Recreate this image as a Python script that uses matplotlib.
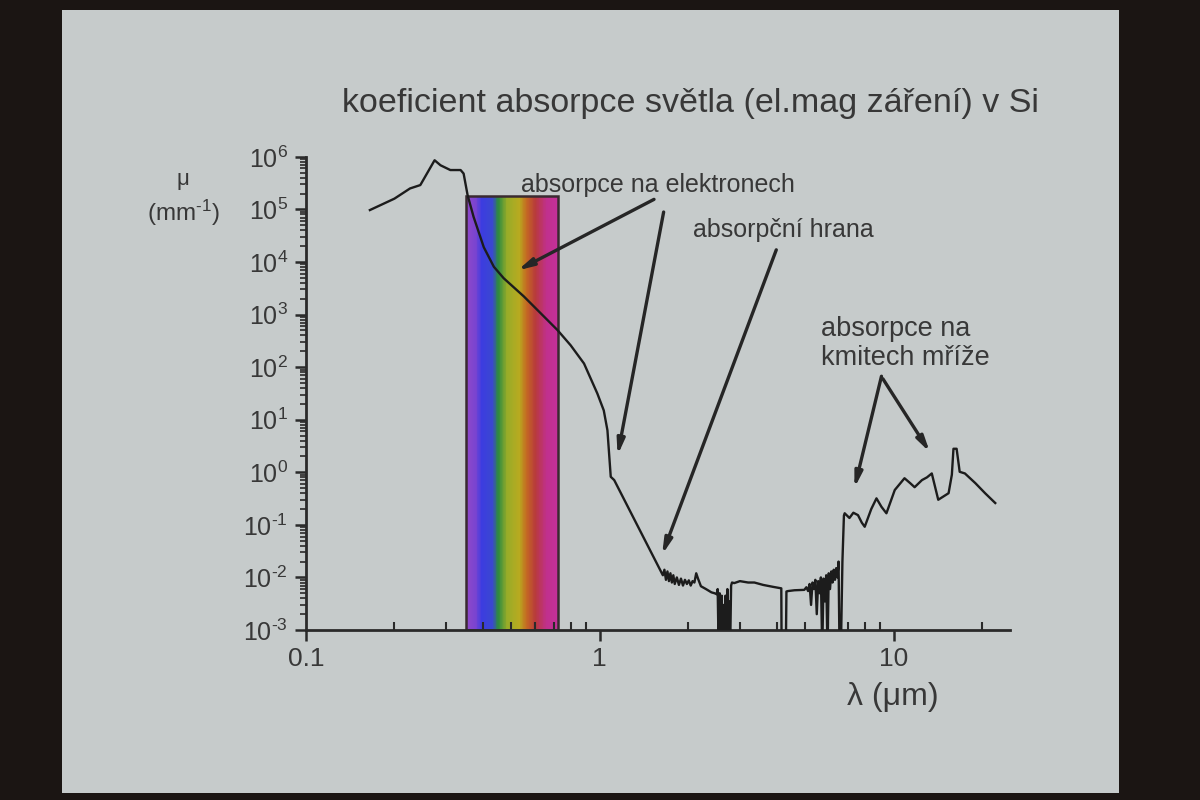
import numpy as np
import matplotlib
matplotlib.use("Agg")
import matplotlib.pyplot as plt
from matplotlib.colors import LinearSegmentedColormap
from matplotlib.patches import Rectangle
from matplotlib.ticker import FixedLocator, LogLocator, NullFormatter, FuncFormatter

plt.rcParams['font.family'] = ['Liberation Sans', 'DejaVu Sans']
plt.rcParams['mathtext.fontset'] = 'custom'
plt.rcParams['mathtext.rm'] = 'Liberation Sans'

# ---------------- data ----------------
wavelength_um = [
    0.165, 0.200, 0.226, 0.245, 0.258, 0.274, 0.287, 0.310, 0.336, 0.344, 0.349, 0.355,
    0.372, 0.403, 0.436, 0.471, 0.552, 0.630, 0.718, 0.796, 0.884, 0.981, 1.032,
    1.062, 1.09, 1.12, 1.64,
    1.66, 1.68, 1.70, 1.72, 1.74, 1.76, 1.78, 1.80, 1.83, 1.86, 1.89, 1.92, 1.95,
    1.98, 2.01, 2.04, 2.07, 2.10, 2.13, 2.16, 2.21, 2.30, 2.40, 2.46,
    2.50, 2.52, 2.54, 2.56, 2.58, 2.60, 2.62, 2.64, 2.66, 2.68, 2.70, 2.72, 2.74,
    2.76, 2.78, 2.80, 2.82, 2.87, 3.00, 3.20, 3.36, 3.60, 3.90, 4.15, 4.16, 4.30,
    4.32, 4.37, 4.60, 4.97,
    5.05, 5.12, 5.18, 5.24, 5.30, 5.36, 5.42, 5.48, 5.54, 5.60, 5.66, 5.72, 5.78,
    5.84, 5.90, 5.96, 6.02, 6.08, 6.14, 6.20, 6.26, 6.32, 6.38, 6.44, 6.50, 6.55,
    6.62, 6.70, 6.78, 6.82, 7.08, 7.30, 7.57, 7.80, 7.98, 8.40, 8.75, 9.10, 9.46,
    10.1, 10.9, 11.4, 11.8, 12.5, 13.0, 13.5, 14.2, 15.4, 15.8, 16.0, 16.4, 16.8,
    17.5, 19.0, 20.5, 22.2]
absorption_mm = [
    9.7e4, 1.6e5, 2.5e5, 2.9e5, 4.8e5, 8.6e5, 6.9e5, 5.6e5, 5.6e5, 4.8e5, 3.1e5, 1.85e5,
    7.2e4, 1.9e4, 8.1e3, 4.9e3, 2.2e3, 1.05e3, 506, 260, 117, 31.6, 15,
    6.3, 0.82, 0.71, 0.011,
    0.014, 0.009, 0.013, 0.0085, 0.012, 0.008, 0.011, 0.0075, 0.010, 0.0072, 0.0095,
    0.0070, 0.0090, 0.0075, 0.0088, 0.0070, 0.0085, 0.0080, 0.012, 0.0095, 0.0068,
    0.0060, 0.0052, 0.0050,
    0.0048, 0.006, 0.0004, 0.005, 0.0005, 0.0045, 0.0004, 0.003, 0.0004, 0.0045,
    0.0004, 0.006, 0.0004, 0.0035, 0.0005, 0.007, 0.008, 0.0078, 0.0085, 0.0080,
    0.0080, 0.0072, 0.0066, 0.0062, 0.0004, 0.0004,
    0.0054, 0.0055, 0.0057, 0.0058,
    0.0065, 0.0055, 0.0075, 0.0030, 0.0080, 0.0060, 0.0090, 0.0020, 0.0085, 0.0050,
    0.0100, 0.0004, 0.0095, 0.0035, 0.0110, 0.0004, 0.0120, 0.0060, 0.0130, 0.0080,
    0.0140, 0.0090, 0.0150, 0.0100, 0.0200, 0.0004,
    0.0004, 0.02, 0.15, 0.166, 0.135, 0.17, 0.153, 0.11, 0.092, 0.20, 0.319, 0.22,
    0.166, 0.46, 0.77, 0.62, 0.52, 0.71, 0.80, 0.95, 0.30, 0.40, 0.9, 2.8, 2.8, 1.02,
    0.95, 0.62, 0.40, 0.26]

visible_band_um = (0.35, 0.72)
visible_band_top = 1.8e5
spectrum_stops = [0.0, 0.10, 0.17, 0.29, 0.35, 0.45, 0.58, 0.66, 0.76, 0.88, 1.0]
spectrum_colors = ['#9048c8', '#7a44d0', '#3c3ce0', '#3a48d0', '#2e8a40', '#98ac28',
                   '#b8aa20', '#c46a22', '#b83a3c', '#c0308c', '#c4309a']

x_ticks = [0.1, 1, 10]
x_ticklabels = ['0.1', '1', '10']
y_ticks = [1e-3, 1e-2, 1e-1, 1e0, 1e1, 1e2, 1e3, 1e4, 1e5, 1e6]

title = 'koeficient absorpce světla (el.mag záření) v Si'
label_electrons = 'absorpce na elektronech'
label_edge = 'absorpční hrana'
label_lattice = 'absorpce na\nkmitech mříže'


def pow10_label(v, pos=None):
    e = int(round(np.log10(v)))
    s = str(abs(e))
    if e < 0:
        return r'$\mathregular{10^{\text{-}%s}}$' % s
    return r'$\mathregular{10^{%s}}$' % s


# ---------------- figure ----------------
txt = '#383838'
fig = plt.figure(figsize=(12, 8), dpi=100, facecolor='#1b1513')
slide = Rectangle((62 / 1200, 1 - 793 / 800), (1119 - 62) / 1200, (793 - 10) / 800,
                  transform=fig.transFigure, facecolor='#c6cbcb', edgecolor='none',
                  zorder=-5)
fig.patches.append(slide)

ax = fig.add_axes([0.255, 0.2125, 0.587, 0.5915])
ax.set_zorder(2)
ax.set_facecolor('none')
ax.set_xscale('log')
ax.set_yscale('log')
ax.set_xlim(0.1, 25)
ax.set_ylim(1e-3, 1e6)

# visible spectrum band
cmap = LinearSegmentedColormap.from_list('vis', list(zip(spectrum_stops, spectrum_colors)))
xe = np.geomspace(visible_band_um[0], visible_band_um[1], 121)
ye = np.array([1e-3, visible_band_top])
C = np.linspace(0, 1, 120)[None, :]
ax.pcolormesh(xe, ye, C, cmap=cmap, shading='flat', zorder=1)
ax.add_patch(Rectangle((visible_band_um[0], 1e-3), visible_band_um[1] - visible_band_um[0],
                       visible_band_top - 1e-3, fill=False, edgecolor='#3a2a30',
                       lw=1.8, zorder=2))

ax.plot(wavelength_um, absorption_mm, color='#1c1c1c', lw=1.7, zorder=3,
        solid_joinstyle='round')

for s in ['top', 'right']:
    ax.spines[s].set_visible(False)
for s in ['left', 'bottom']:
    ax.spines[s].set_linewidth(2)
    ax.spines[s].set_color('#2a2a2a')

ax.xaxis.set_major_locator(FixedLocator(x_ticks))
ax.xaxis.set_major_formatter(FuncFormatter(lambda v, p: x_ticklabels[x_ticks.index(v)] if v in x_ticks else ''))
ax.xaxis.set_minor_locator(LogLocator(base=10, subs=np.arange(2, 10), numticks=20))
ax.xaxis.set_minor_formatter(NullFormatter())
ax.yaxis.set_major_locator(FixedLocator(y_ticks))
ax.yaxis.set_major_formatter(FuncFormatter(pow10_label))
ax.yaxis.set_minor_locator(LogLocator(base=10, subs=np.arange(2, 10), numticks=20))
ax.yaxis.set_minor_formatter(NullFormatter())

ax.tick_params(axis='x', which='major', direction='out', length=8, width=1.8,
               labelsize=19, pad=4, colors='#2a2a2a', labelcolor=txt)
ax.tick_params(axis='x', which='minor', direction='in', length=6, width=1.5, colors='#2a2a2a')
ax.tick_params(axis='y', which='major', direction='out', length=8, width=1.8,
               labelsize=18, pad=5, colors='#2a2a2a', labelcolor=txt)
ax.tick_params(axis='y', which='minor', direction='out', length=4, width=1.2, colors='#2a2a2a')

# texts
fig.text(0.575, 0.871, title, ha='center', va='center', fontsize=24.5, color=txt)
fig.text(0.1525, 0.776, 'μ', ha='center', va='center', fontsize=16, color=txt)
fig.text(0.1525, 0.734, r'(mm$\mathregular{^{\text{-}1}}$)', ha='center', va='center',
         fontsize=17.5, color=txt)
fig.text(0.744, 0.129, 'λ (μm)', ha='center', va='center', fontsize=23, color=txt)
fig.text(0.548, 0.769, label_electrons, ha='center', va='center', fontsize=18, color=txt)
fig.text(0.653, 0.7125, label_edge, ha='center', va='center', fontsize=18, color=txt)
fig.text(0.684, 0.571, label_lattice, ha='left', va='center', fontsize=19.5, color=txt,
         linespacing=1.15)

arrow = dict(arrowstyle='-|>,head_length=0.9,head_width=0.22', lw=2.4, color='#262626',
             shrinkA=0, shrinkB=0)
arrows = [((1.53, 1.55e5), (0.525, 6.9e3)),
          ((1.65, 8.9e4), (1.15, 2.1)),
          ((3.99, 1.7e4), (1.63, 0.027)),
          ((9.1, 67), (7.36, 0.50)),
          ((9.2, 60), (13.3, 2.4))]
for start, end in arrows:
    ax.annotate('', xy=end, xytext=start, xycoords='data', textcoords='data',
                arrowprops=arrow, zorder=4, annotation_clip=False)

fig.savefig('out.png', dpi=100, facecolor=fig.get_facecolor())
